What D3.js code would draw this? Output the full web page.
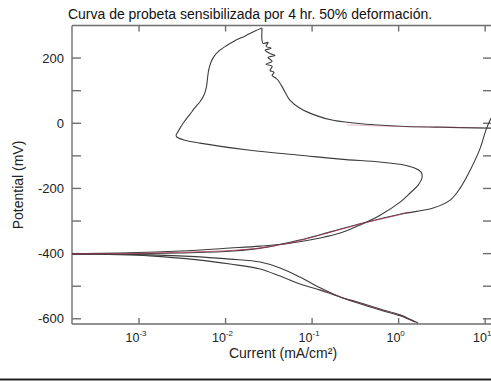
<!DOCTYPE html>
<html>
<head>
<meta charset="utf-8">
<script src="https://cdn.jsdelivr.net/npm/d3@7"></script>
<style>
  html, body { margin: 0; padding: 0; background: #fff; }
  svg { display: block; font-family: "Liberation Sans", Arial, sans-serif; }
</style>
</head>
<body>
<svg id="chart" width="491" height="381"></svg>
<script>
// Cyclic polarization scan: [current density (mA/cm²), potential (mV)]
const cathodicForward = [
  [1.55, -610], [1.04, -591], [0.611, -573], [0.359, -554], [0.211, -533],
  [0.124, -505], [0.0726, -472], [0.0427, -444], [0.0251, -426], [0.0113, -417],
  [5.07e-3, -410], [1.34e-3, -404], [3.54e-4, -401], [1.5e-4, -401]
];
const anodicForward = [
  [1.5e-4, -401], [6.03e-4, -398], [2.98e-3, -392], [0.0113, -383], [0.0251, -377],
  [0.0557, -368], [0.124, -352], [0.211, -337], [0.359, -312], [0.611, -282],
  [1.04, -242], [1.36, -214], [1.68, -190], [1.87, -165], [1.82, -150],
  [1.55, -138], [1.04, -126], [0.611, -119], [0.211, -110], [0.0726, -98],
  [0.0192, -83], [5.07e-3, -61], [3.40e-3, -52], [2.75e-3, -43], [2.68e-3, -37],
  [2.75e-3, -31], [2.98e-3, -15], [3.23e-3, 0], [3.89e-3, 28], [4.5e-3, 50],
  [5.07e-3, 66], [5.6e-3, 85], [6.0e-3, 110], [6.2e-3, 140], [6.4e-3, 165],
  [6.8e-3, 188], [7.4e-3, 206], [8.4e-3, 222], [0.0102, 238], [0.0125, 252],
  [0.0169, 268], [0.0219, 283], [0.0264, 292]
];
const reverseScan = [
  [0.0264, 292], [0.0264, 254], [0.0272, 245], [0.0310, 248], [0.0294, 236],
  [0.0336, 230], [0.0286, 224], [0.0327, 214], [0.0373, 208], [0.0310, 202],
  [0.0345, 190], [0.0294, 181], [0.0345, 175], [0.0327, 162], [0.0363, 156],
  [0.0345, 147], [0.0383, 138], [0.0404, 132], [0.0462, 107], [0.0557, 70],
  [0.0726, 46], [0.108, 25], [0.175, 9], [0.432, -3], [1.04, -9],
  [3.02, -12], [11.6, -15], [14, -15]
];
const reverseReturn = [
  [14, 55], [11.4, 9], [10.2, -21], [8.75, -77], [6.71, -144], [5.14, -199],
  [3.94, -236], [2.51, -260], [1.04, -279], [0.432, -303], [0.175, -331],
  [0.0726, -358], [0.030, -380], [0.0122, -392], [2.98e-3, -398], [6.03e-4, -401],
  [1.5e-4, -401]
];
const cathodicReturn = [
  [1.5e-4, -401], [1.34e-3, -407], [5.07e-3, -420], [0.0113, -432], [0.0251, -447],
  [0.0427, -469], [0.0726, -493], [0.124, -512], [0.211, -533], [0.359, -551],
  [0.611, -570], [1.04, -588], [1.40, -603], [1.68, -613]
];

// Tafel fit segments drawn over the scan
const fitAnodic = [
  [1.5e-4, -401], [6e-4, -400], [3e-3, -396], [0.0122, -390], [0.03, -380],
  [0.0726, -360], [0.175, -332], [0.432, -304], [1.04, -280], [1.3, -272]
];
const fitCathodic = [
  [0.124, -509], [0.211, -533], [0.359, -552], [0.611, -571], [1.04, -590], [1.5, -608]
];
const fitPassive = [
  [0.25, -5], [1.04, -10], [3.02, -12], [9, -14]
];

const xTickValues = [1e-3, 1e-2, 1e-1, 1, 10];
const xTickExponents = ["-3", "-2", "-1", "0", "1"];
const yTickValues = [-600, -400, -200, 0, 200];
const yMinorTicks = [-500, -300, -100, 100];

const titleText = "Curva de probeta sensibilizada por 4 hr. 50% deformación.";
const xTitle = "Current (mA/cm²)";
const yTitle = "Potential (mV)";

const svg = d3.select("#chart");
const plotLeft = 72, plotRight = 492, plotTop = 25.5, plotBottom = 324;

const x = d3.scaleLog().domain([1.68e-4, 12]).range([plotLeft, plotRight]);
const y = d3.scaleLinear().domain([-616, 300]).range([plotBottom, plotTop]);

svg.append("defs").append("clipPath").attr("id", "plotClip")
  .append("rect").attr("x", plotLeft).attr("y", plotTop)
  .attr("width", plotRight - plotLeft).attr("height", plotBottom - plotTop);

const axisColor = "#6e6e6e";

// frame: axes on all four sides with inward ticks
const allY = yTickValues.concat(yMinorTicks);
const axes = svg.append("g").attr("stroke", axisColor).attr("stroke-width", 1.4).attr("fill", "none");
axes.append("line").attr("x1", plotLeft).attr("x2", plotLeft).attr("y1", plotTop).attr("y2", plotBottom);
axes.append("line").attr("x1", plotLeft).attr("x2", plotRight).attr("y1", plotBottom).attr("y2", plotBottom);
axes.append("line").attr("x1", plotLeft).attr("x2", plotRight).attr("y1", plotTop).attr("y2", plotTop);
axes.append("line").attr("x1", plotRight).attr("x2", plotRight).attr("y1", plotTop).attr("y2", plotBottom);

axes.selectAll(".ytl").data(allY).join("line")
  .attr("x1", plotLeft).attr("x2", plotLeft + 9)
  .attr("y1", d => y(d)).attr("y2", d => y(d));
axes.selectAll(".ytr").data(allY).join("line")
  .attr("x1", plotRight).attr("x2", plotRight - 9)
  .attr("y1", d => y(d)).attr("y2", d => y(d));
axes.selectAll(".xtb").data(xTickValues).join("line")
  .attr("x1", d => x(d)).attr("x2", d => x(d))
  .attr("y1", plotBottom).attr("y2", plotBottom - 6);
axes.selectAll(".xtt").data(xTickValues).join("line")
  .attr("x1", d => x(d)).attr("x2", d => x(d))
  .attr("y1", plotTop).attr("y2", plotTop + 6);

// y tick labels
svg.append("g").selectAll("text").data(yTickValues).join("text")
  .attr("x", plotLeft - 8).attr("y", d => y(d)).attr("dy", "0.35em")
  .attr("text-anchor", "end").attr("font-size", 13).attr("fill", "#222")
  .text(d => d);

// x tick labels: 10 with superscript exponent
const xl = svg.append("g").selectAll("text").data(xTickValues).join("text")
  .attr("x", d => x(d) - 3).attr("y", 342)
  .attr("text-anchor", "middle").attr("font-size", 12.5).attr("fill", "#222");
xl.append("tspan").text("10");
xl.append("tspan").attr("dy", -6).attr("font-size", 8).text((d, i) => xTickExponents[i]);

// titles
svg.append("text").attr("x", 250).attr("y", 19).attr("text-anchor", "middle")
  .attr("font-size", 14).attr("fill", "#111").text(titleText);
svg.append("text").attr("x", 283).attr("y", 358).attr("text-anchor", "middle")
  .attr("font-size", 14).attr("fill", "#222").text(xTitle);
svg.append("text").attr("transform", "translate(23,185) rotate(-90)")
  .attr("text-anchor", "middle").attr("font-size", 14).attr("fill", "#222").text(yTitle);

// curves
const line = d3.line().x(d => x(d[0])).y(d => y(d[1])).curve(d3.curveCatmullRom.alpha(0.5));
const plot = svg.append("g").attr("clip-path", "url(#plotClip)").attr("fill", "none");

[cathodicForward, anodicForward, reverseScan, reverseReturn, cathodicReturn].forEach(seg => {
  plot.append("path").datum(seg).attr("d", line)
    .attr("stroke", "#3c3c3c").attr("stroke-width", 1.1).attr("stroke-linejoin", "round");
});
[fitAnodic, fitCathodic, fitPassive].forEach((seg, i) => {
  plot.append("path").datum(seg).attr("d", line)
    .attr("stroke", "#b23a5a").attr("stroke-width", 1)
    .attr("stroke-opacity", i === 0 ? 0.75 : 0.35);
});

// bottom border of the figure
svg.append("line").attr("x1", 0).attr("x2", 491).attr("y1", 379.5).attr("y2", 379.5)
  .attr("stroke", "#222").attr("stroke-width", 2);
</script>
</body>
</html>
